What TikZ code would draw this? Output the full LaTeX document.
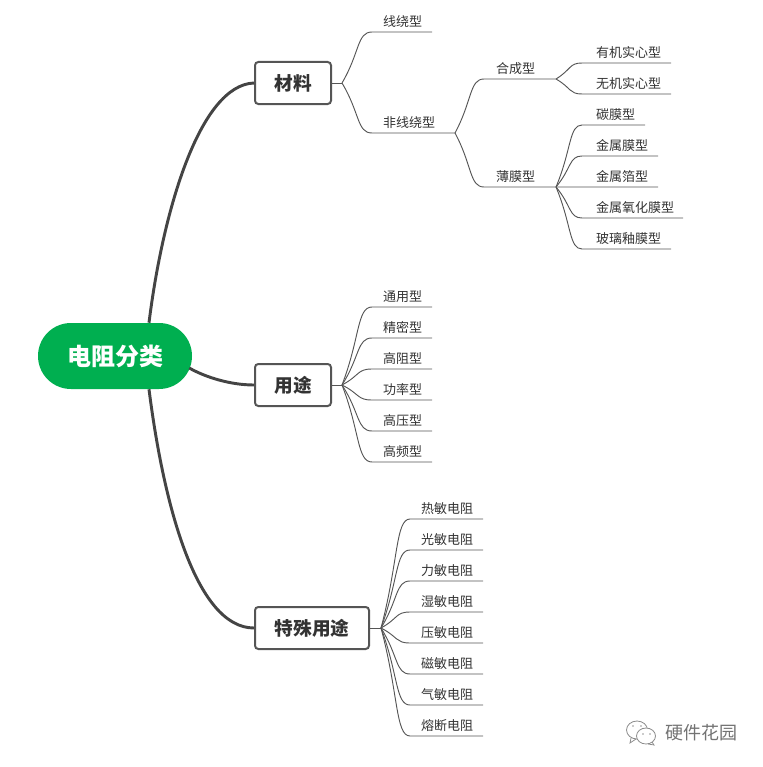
\documentclass[tikz,border=0pt]{standalone}
\usepackage{fontspec}
\setmainfont{Noto Sans CJK SC}
\usetikzlibrary{calc}
\definecolor{mainln}{HTML}{444444}
\definecolor{thinln}{HTML}{555555}
\definecolor{txt}{HTML}{333333}
\definecolor{rootgreen}{HTML}{00AF50}
\tikzset{
  rootnode/.style={fill=rootgreen,text=white,rounded corners=24.7pt,minimum width=115.5pt,minimum height=49.5pt,inner sep=0pt,font=\fontsize{18pt}{20pt}\selectfont\bfseries},
  boxnode/.style={draw=thinln,line width=1.5pt,fill=white,rounded corners=2.5pt,minimum height=31.5pt,inner sep=0pt,text=txt,font=\fontsize{14pt}{18pt}\selectfont\bfseries},
  leafnode/.style={anchor=south west,inner sep=0pt,outer sep=0pt,text=txt,text height=8pt,text depth=4pt,font=\fontsize{9.75pt}{12pt}\selectfont},
  thin line/.style={draw=thinln,line width=0.7pt},
  main line/.style={draw=mainln,line width=2.2pt},
  mark line/.style={draw=black!45,line width=0.6pt}
}
% name, parent point, x start, x end, y of the rule, text offset, text
\newcommand{\leaf}[7]{%
  \pgfmathsetlengthmacro{\lw}{(#4-#3)*0.75pt}%
  \pgfmathsetlengthmacro{\lp}{#6*0.75pt}%
  \node[leafnode] (#1) at (#3,#5) {\makebox[\lw][l]{\hspace*{\lp}#7}};
  \draw[thin line] (#2) .. controls ($(#2)!0.6!(#1.south west)$) and ($(#1.south west)!0.5!(#2 |- #1.south west)$) .. (#1.south west) -- (#1.south east);
}
\begin{document}
\begin{tikzpicture}[x=0.75pt,y=-0.75pt]
\useasboundingbox (0,0) rectangle (763,767);
\node[rootnode] (root) at (115,356) {\raisebox{-1.1pt}{电阻分类}};
\node[boxnode,minimum width=57pt] (mat) at (293,83) {\raisebox{-0.75pt}{材料}};
\node[boxnode,minimum width=57pt] (use) at (293,385) {\raisebox{-0.75pt}{用途}};
\node[boxnode,minimum width=85.5pt] (spec) at (312,628) {\raisebox{-0.75pt}{特殊用途}};
\draw[main line] ($(root.north)+(34,0)$) .. controls (163,210) and (200,85) .. (mat.west);
\draw[main line] ($(root.east)+(-3,12)$) .. controls (205,377) and (230,385) .. (use.west);
\draw[main line] ($(root.south)+(34,0)$) .. controls (163,500) and (195,628) .. (spec.west);
\coordinate (jm) at ($(mat.east)+(10,0)$);
\coordinate (ju) at ($(use.east)+(10,0)$);
\coordinate (js) at ($(spec.east)+(11,0)$);
\draw[thin line] (mat.east) -- (jm);
\draw[thin line] (use.east) -- (ju);
\draw[thin line] (spec.east) -- (js);
% material branch
\leaf{a1}{jm}{372}{432}{32}{11}{线绕型}
\leaf{a2}{jm}{372}{455}{133}{11}{非线绕型}
\leaf{b1}{a2.south east}{484}{556}{79}{12}{合成型}
\leaf{b2}{a2.south east}{484}{556}{187}{12}{薄膜型}
\leaf{c1}{b1.south east}{582}{671}{63}{14}{有机实心型}
\leaf{c2}{b1.south east}{582}{671}{94}{14}{无机实心型}
\leaf{d1}{b2.south east}{582}{645}{125}{14}{碳膜型}
\leaf{d2}{b2.south east}{582}{658}{156}{14}{金属膜型}
\leaf{d3}{b2.south east}{582}{658}{187}{14}{金属箔型}
\leaf{d4}{b2.south east}{582}{683}{218}{14}{金属氧化膜型}
\leaf{d5}{b2.south east}{582}{671}{249}{14}{玻璃釉膜型}
% use branch
\leaf{u1}{ju}{372}{432}{307}{11}{通用型}
\leaf{u2}{ju}{372}{432}{338}{11}{精密型}
\leaf{u3}{ju}{372}{432}{369}{11}{高阻型}
\leaf{u4}{ju}{372}{432}{400}{11}{功率型}
\leaf{u5}{ju}{372}{432}{431}{11}{高压型}
\leaf{u6}{ju}{372}{432}{462}{11}{高频型}
% special branch
\leaf{s1}{js}{410}{483}{519}{11}{热敏电阻}
\leaf{s2}{js}{410}{483}{550}{11}{光敏电阻}
\leaf{s3}{js}{410}{483}{581}{11}{力敏电阻}
\leaf{s4}{js}{410}{483}{612}{11}{湿敏电阻}
\leaf{s5}{js}{410}{483}{643}{11}{压敏电阻}
\leaf{s6}{js}{410}{483}{674}{11}{磁敏电阻}
\leaf{s7}{js}{410}{483}{705}{11}{气敏电阻}
\leaf{s8}{js}{410}{483}{736}{11}{熔断电阻}
% watermark
\draw[mark line,fill=white] (637,730) ellipse [x radius=10.5,y radius=9];
\draw[mark line] (631,738) -- (630,743) -- (636,739);
\draw[mark line,fill=white] (646,736) ellipse [x radius=9.5,y radius=8];
\draw[mark line] (652,742) -- (654,745) -- (648,744);
\fill[black!40] (633,726) circle (0.9) (641,726) circle (0.9) (643,734) circle (0.8) (650,734) circle (0.8);
\node[text=black!55,inner sep=0pt,font=\fontsize{13.5pt}{16pt}\selectfont] (wm) at (701,733) {硬件花园};
\end{tikzpicture}
\end{document}
